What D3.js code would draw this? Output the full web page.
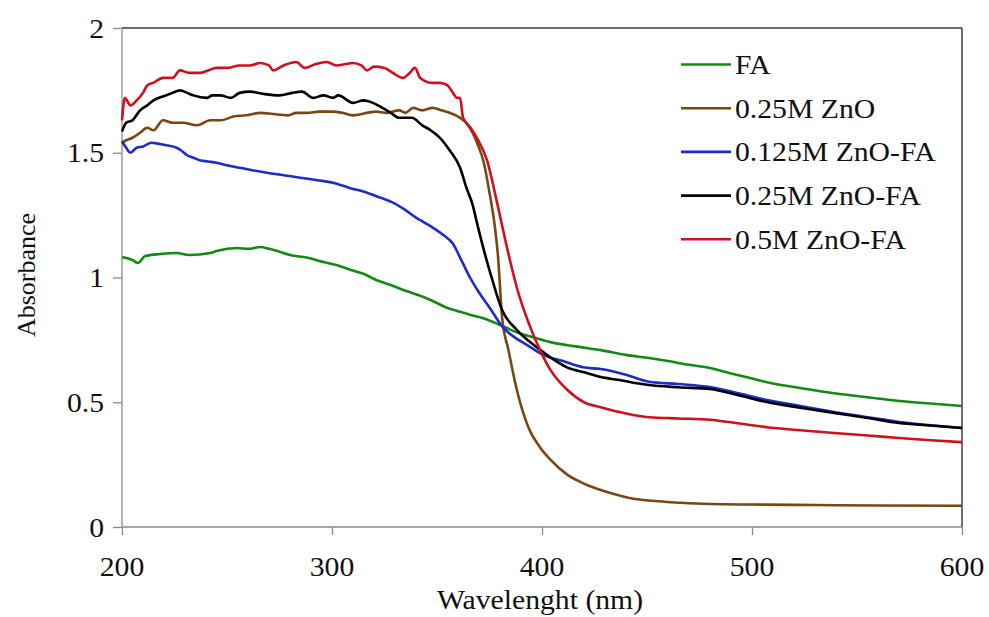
<!DOCTYPE html>
<html>
<head>
<meta charset="utf-8">
<script src="https://cdn.jsdelivr.net/npm/d3@7/dist/d3.min.js"></script>
<style>
  html, body { margin: 0; padding: 0; background: #fff; }
  svg { display: block; }
  text { font-family: "Liberation Serif", "Times New Roman", serif; fill: #111; }
</style>
</head>
<body>
<svg id="chart" width="989" height="617"></svg>
<script>
// ---------------- data ----------------
const seriesNames = ["FA", "0.25M ZnO", "0.125M ZnO-FA", "0.25M ZnO-FA", "0.5M ZnO-FA"];
const seriesColors = ["#138a13", "#7a4614", "#1c2cc4", "#000000", "#d0101c"];

const xTicks = [200, 300, 400, 500, 600];
const yTicks = [0, 0.5, 1, 1.5, 2];
const yTickLabels = ["0", "0.5", "1", "1.5", "2"];

const faW = [200,205,207.6,211,218,226,232,242,245,255,260,266,270,274,280,288,296,302,309,315,321,328,334,341,347,355,360,366,372,380,388,396,404,415,428,440,451,460,470,480,490,499,510,523,540,555,570,585,600];
const faA = [1.082,1.07,1.058,1.086,1.094,1.098,1.09,1.098,1.106,1.118,1.115,1.122,1.115,1.106,1.09,1.08,1.062,1.05,1.03,1.015,0.99,0.97,0.95,0.93,0.91,0.878,0.865,0.85,0.837,0.81,0.78,0.76,0.741,0.725,0.709,0.69,0.677,0.665,0.65,0.637,0.615,0.597,0.575,0.557,0.535,0.52,0.505,0.495,0.485];

const znoW = [200,202,205,208.6,212,215,219.5,224,229,235.7,242,247,253,259,266,272,279,283,288,294,300.5,305,310,316.7,321,326,332,335,338.6,343,348,352,356,361,364,367,370,372,375,377.6,379,381,384,388,394,399,404,412,419.5,428,436,443,451,466,480,500,530,560,600];
const znoA = [1.54,1.55,1.56,1.58,1.60,1.59,1.63,1.62,1.62,1.61,1.63,1.63,1.645,1.65,1.66,1.655,1.65,1.66,1.66,1.665,1.665,1.66,1.65,1.66,1.665,1.66,1.67,1.66,1.68,1.67,1.68,1.67,1.66,1.64,1.62,1.58,1.52,1.47,1.34,1.20,1.09,0.84,0.71,0.55,0.39,0.32,0.27,0.21,0.176,0.148,0.128,0.114,0.106,0.097,0.092,0.090,0.088,0.086,0.085];

const zf125W = [200,202,204,207,210,214,218,221,226,228,231,234,237,241,245,250,256,262,269,277,284.8,293,300.5,308,316.7,323,329,335,340,344,348,353,357.6,361,365.7,370,375,381.4,387,392.8,400.5,410,419.5,428,440,451,465,480,494,507,523,539,555,570,585,600];
const zf125A = [1.545,1.52,1.50,1.52,1.525,1.54,1.535,1.53,1.52,1.51,1.49,1.48,1.47,1.465,1.46,1.45,1.44,1.43,1.42,1.41,1.40,1.39,1.38,1.36,1.34,1.32,1.30,1.27,1.24,1.22,1.20,1.17,1.135,1.08,1.00,0.94,0.88,0.80,0.76,0.73,0.69,0.665,0.64,0.633,0.61,0.582,0.573,0.561,0.535,0.509,0.485,0.461,0.44,0.421,0.408,0.397];

const zf25W = [200,202,205,208.6,212,215,221,224,227.6,231,234,240.5,243,246.7,252,256,261,268,275,281,285.7,291,296,300.5,303,310,315,319.5,324,328,332,338,343,347,351.4,356,361,364,367,369,372,376.7,381,388,397.6,404,411.9,420,428,436,451,465,480,494,507,523,539,555,570,585,600];
const zf25A = [1.585,1.62,1.63,1.67,1.69,1.71,1.73,1.74,1.75,1.74,1.73,1.72,1.73,1.73,1.72,1.74,1.745,1.735,1.73,1.74,1.745,1.72,1.73,1.72,1.73,1.70,1.71,1.70,1.68,1.66,1.64,1.64,1.61,1.59,1.56,1.51,1.44,1.36,1.29,1.22,1.12,0.98,0.87,0.79,0.72,0.68,0.64,0.62,0.601,0.59,0.569,0.56,0.553,0.527,0.501,0.478,0.457,0.437,0.417,0.407,0.397];

const zf5W = [200,201.4,203,204,207,210,212,214.8,219.5,224,227.6,232,237,241,245,250,256,261,265.7,270,272,277,283,287,292,297.6,302,306,310,314,316.7,320,325,329,333.8,337,339.5,342,348,351.4,355,357.6,359.5,361,362.4,366,369,373.8,378.6,382,385,388,394,399,404,412,420,428,440,451,465,480,494,507,523,539,555,570,585,600];
const zf5A = [1.63,1.72,1.70,1.69,1.71,1.74,1.77,1.78,1.80,1.80,1.83,1.82,1.82,1.83,1.84,1.84,1.85,1.85,1.86,1.85,1.83,1.85,1.864,1.84,1.855,1.864,1.85,1.855,1.86,1.85,1.83,1.845,1.84,1.82,1.80,1.82,1.84,1.80,1.78,1.78,1.77,1.74,1.72,1.72,1.64,1.60,1.56,1.47,1.30,1.17,1.06,0.96,0.81,0.71,0.63,0.55,0.50,0.48,0.455,0.44,0.435,0.43,0.415,0.40,0.388,0.377,0.367,0.357,0.348,0.34];

const seriesW = [faW, znoW, zf125W, zf25W, zf5W];
const seriesA = [faA, znoA, zf125A, zf25A, zf5A];

// ---------------- layout ----------------
const svg = d3.select("#chart");
const mLeft = 122, mRight = 962, mTop = 28, mBottom = 527;
const FS = 27, SX = 1.1;

const x = d3.scaleLinear().domain([200, 600]).range([mLeft, mRight]);
const y = d3.scaleLinear().domain([0, 2]).range([mBottom, mTop]);

// frame: top and right
svg.append("line").attr("x1", mLeft).attr("x2", mRight).attr("y1", mTop).attr("y2", mTop)
  .attr("stroke", "#3a3a3a").attr("stroke-width", 1.3);
svg.append("line").attr("x1", mRight).attr("x2", mRight).attr("y1", mTop).attr("y2", mBottom)
  .attr("stroke", "#222").attr("stroke-width", 1.3);

// axes
const xAxis = d3.axisBottom(x).tickValues(xTicks).tickSize(8).tickFormat("");
const gx = svg.append("g").attr("transform", `translate(0,${mBottom})`).call(xAxis);
const yAxis = d3.axisLeft(y).tickValues(yTicks).tickSize(9).tickFormat("");
const gy = svg.append("g").attr("transform", `translate(${mLeft},0)`).call(yAxis);
[gx, gy].forEach(g => {
  g.select(".domain").attr("stroke", "#8a8a8a").attr("stroke-width", 1.3);
  g.selectAll(".tick line").attr("stroke", "#8a8a8a").attr("stroke-width", 1.3);
});
gx.select(".domain").attr("d", `M${mLeft},0H${mRight}`);
gy.select(".domain").attr("d", `M0,${mBottom}V${mTop}`);

// tick labels (stretched serif like reference)
xTicks.forEach(t => {
  svg.append("g").attr("transform", `translate(${x(t)},576) scale(${SX},1)`)
    .append("text").attr("text-anchor", "middle").attr("font-size", FS).text(String(t));
});
yTicks.forEach((t, i) => {
  svg.append("g").attr("transform", `translate(104,${y(t) + 9.5}) scale(${SX},1)`)
    .append("text").attr("text-anchor", "end").attr("font-size", FS).text(yTickLabels[i]);
});

// axis titles
svg.append("g").attr("transform", `translate(540,609) scale(${SX},1)`)
  .append("text").attr("text-anchor", "middle").attr("font-size", FS).text("Wavelenght (nm)");
svg.append("g").attr("transform", `translate(35,275) rotate(-90)`)
  .append("text").attr("text-anchor", "middle").attr("font-size", 26).text("Absorbance");

// lines
const line = d3.line().x(d => x(d[0])).y(d => y(d[1])).curve(d3.curveMonotoneX);
seriesNames.forEach((name, i) => {
  const pts = seriesW[i].map((w, j) => [w, seriesA[i][j]]);
  svg.append("path").datum(pts)
    .attr("fill", "none").attr("stroke", seriesColors[i])
    .attr("stroke-width", 2.6).attr("stroke-linejoin", "round")
    .attr("d", line);
});

// legend
const legY0 = 64.5, legDy = 43.7;
seriesNames.forEach((name, i) => {
  const yy = legY0 + i * legDy;
  svg.append("line").attr("x1", 681).attr("x2", 731).attr("y1", yy).attr("y2", yy)
    .attr("stroke", seriesColors[i]).attr("stroke-width", 2.6);
  svg.append("g").attr("transform", `translate(735,${yy + 9.5}) scale(${SX},1)`)
    .append("text").attr("font-size", FS).text(name);
});
</script>
</body>
</html>
